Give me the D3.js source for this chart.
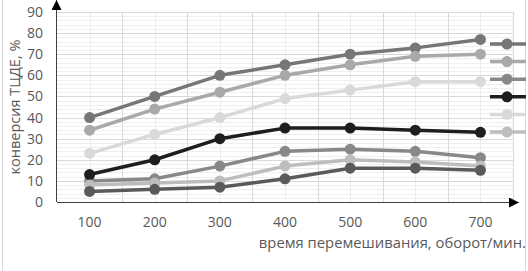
<!DOCTYPE html>
<html>
<head>
<meta charset="utf-8">
<script src="https://cdn.jsdelivr.net/npm/d3@7"></script>
<style>
  body { margin: 0; background: #fff; }
  text { font-family: "Open Sans", "Noto Sans", sans-serif; fill: #595959; }
</style>
</head>
<body>
<svg id="chart" width="528" height="271"></svg>
<script>
// rpm categories
var categories = ['100', '200', '300', '400', '500', '600', '700']
var yTicks = [0, 10, 20, 30, 40, 50, 60, 70, 80, 90]

// conversion values, % (series in legend order)
var s1 = [40, 50, 60, 65, 70, 73, 77]
var s2 = [34, 44, 52, 60, 65, 69, 70]
var s3 = [10, 11, 17, 24, 25, 24, 21]
var s4 = [13, 20, 30, 35, 35, 34, 33]
var s5 = [23, 32, 40, 49, 53, 57, 57]
var s6 = [8, 9, 10, 17, 20, 19, 17]
var s7 = [5, 6, 7, 11, 16, 16, 15]

var seriesColors = ['#767676', '#a9a9a9', '#888888', '#1e1e1e', '#d9d9d9', '#bdbdbd', '#5a5a5a']
var series = [s1, s2, s3, s4, s5, s6, s7].map(function(v, i) { return { values: v, color: seriesColors[i] } })

var svg = d3.select('#chart')
var pLeft = 57, pRight = 513, pTop = 12, pBottom = 202

var x = d3.scaleBand().domain(categories).range([pLeft, pRight])
var y = d3.scaleLinear().domain([0, 90]).range([pBottom, pTop])

// outer chart border (only the side edges are visible)
svg.append('line').attr('x1', 2.5).attr('x2', 2.5).attr('y1', 0).attr('y2', 271).attr('stroke', '#d9d9d9')
svg.append('line').attr('x1', 525.5).attr('x2', 525.5).attr('y1', 0).attr('y2', 271).attr('stroke', '#d9d9d9')

// minor grid
var minorY = d3.range(2, 90, 2).filter(function(v) { return v % 10 })
svg.append('g').selectAll('line').data(minorY).enter().append('line')
    .attr('x1', pLeft).attr('x2', pRight)
    .attr('y1', function(d) { return Math.round(y(d)) + 0.5 })
    .attr('y2', function(d) { return Math.round(y(d)) + 0.5 })
    .attr('stroke', '#efefef')
svg.append('g').selectAll('line').data(categories).enter().append('line')
    .attr('x1', function(d) { return Math.round(x(d) + x.bandwidth() / 2) + 0.5 })
    .attr('x2', function(d) { return Math.round(x(d) + x.bandwidth() / 2) + 0.5 })
    .attr('y1', pTop).attr('y2', pBottom)
    .attr('stroke', '#ececec')

// major grid
svg.append('g').selectAll('line').data(yTicks.slice(1)).enter().append('line')
    .attr('x1', pLeft).attr('x2', pRight)
    .attr('y1', function(d) { return Math.round(y(d)) + 0.5 })
    .attr('y2', function(d) { return Math.round(y(d)) + 0.5 })
    .attr('stroke', '#d9d9d9')
var edges = categories.map(function(c) { return x(c) + x.bandwidth() })
svg.append('g').selectAll('line').data(edges).enter().append('line')
    .attr('x1', function(d) { return Math.round(d) + 0.5 })
    .attr('x2', function(d) { return Math.round(d) + 0.5 })
    .attr('y1', pTop).attr('y2', pBottom)
    .attr('stroke', '#d9d9d9')

// axes with arrows
svg.append('defs').append('marker')
    .attr('id', 'arrow').attr('viewBox', '0 0 10 10').attr('refX', 10).attr('refY', 5)
    .attr('markerWidth', 10).attr('markerHeight', 10).attr('markerUnits', 'userSpaceOnUse')
    .attr('orient', 'auto')
    .append('path').attr('d', 'M0,0L10,5L0,10Z').attr('fill', '#000')
svg.append('line').attr('x1', pLeft - 0.5).attr('x2', pLeft - 0.5).attr('y1', pBottom).attr('y2', 0)
    .attr('stroke', '#404040').attr('marker-end', 'url(#arrow)')
svg.append('line').attr('x1', pLeft).attr('x2', 519).attr('y1', pBottom + 0.5).attr('y2', pBottom + 0.5)
    .attr('stroke', '#404040').attr('marker-end', 'url(#arrow)')

var yAxis = svg.append('g').attr('transform', 'translate(' + pLeft + ',0)')
    .call(d3.axisLeft(y).tickValues(yTicks).tickSize(0).tickPadding(14))
yAxis.select('.domain').remove()
yAxis.selectAll('text').style('font-size', '14px').style('font-family', null).attr('fill', null)

var xAxis = svg.append('g').attr('transform', 'translate(0,' + pBottom + ')')
    .call(d3.axisBottom(x).tickSize(0).tickPadding(15))
xAxis.select('.domain').remove()
xAxis.selectAll('text').style('font-size', '14px').style('font-family', null).attr('fill', null)

// axis titles
svg.append('text').attr('x', 526).attr('y', 248).attr('text-anchor', 'end')
    .style('font-size', '14.8px').text('время перемешивания, оборот/мин.')
svg.append('text').attr('transform', 'translate(20,107) rotate(-90)').attr('text-anchor', 'middle')
    .style('font-size', '14.5px').text('конверсия ТЦДЕ, %')

// lines and markers
var line = d3.line()
    .x(function(d, i) { return x(categories[i]) + x.bandwidth() / 2 })
    .y(function(d) { return y(d) })
var g = svg.append('g').selectAll('g').data(series).enter().append('g')
g.append('path')
    .attr('d', function(d) { return line(d.values) })
    .attr('fill', 'none').attr('stroke', function(d) { return d.color }).attr('stroke-width', 3.5)
    .attr('stroke-linejoin', 'round')
g.selectAll('circle').data(function(d) { return d.values.map(function(v, i) { return { v: v, i: i, color: d.color } }) })
    .enter().append('circle')
    .attr('cx', function(d) { return x(categories[d.i]) + x.bandwidth() / 2 })
    .attr('cy', function(d) { return y(d.v) })
    .attr('r', 5.5)
    .attr('fill', function(d) { return d.color })

// legend, clipped on the right and bottom like the original
var legend = svg.append('g').selectAll('g').data(series.slice(0, 6)).enter().append('g')
    .attr('transform', function(d, i) { return 'translate(0,' + (44 + i * 17.6) + ')' })
legend.append('line').attr('x1', 490).attr('x2', 526).attr('y1', 0).attr('y2', 0)
    .attr('stroke', function(d) { return d.color }).attr('stroke-width', 3.5)
legend.append('circle').attr('cx', 507).attr('cy', 0).attr('r', 5.5)
    .attr('fill', function(d) { return d.color })
</script>
</body>
</html>
